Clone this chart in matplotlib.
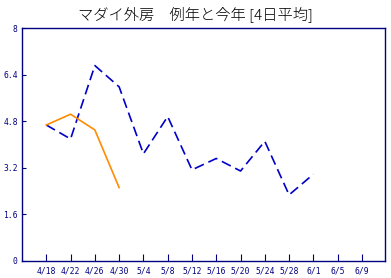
import matplotlib
matplotlib.use("Agg")
import matplotlib.pyplot as plt
import numpy as np

# 日付ラベル (4日おき)
tick_labels = ["4/18", "4/22", "4/26", "4/30", "5/4", "5/8", "5/12", "5/16",
               "5/20", "5/24", "5/28", "6/1", "6/5", "6/9"]
tick_days = np.arange(0, 56, 4)

# 例年 (青・破線)
avg_days = [0, 4, 8, 12, 16, 20, 24, 28, 32, 36, 40, 44]
avg_vals = [4.67, 4.19, 6.71, 5.98, 3.68, 4.96, 3.13, 3.52, 3.09, 4.11, 2.27, 2.98]

# 今年 (オレンジ)
now_days = [0, 4, 8, 12]
now_vals = [4.67, 5.04, 4.5, 2.52]

navy = "#000080"

plt.rcParams['font.family'] = ['Noto Sans CJK JP', 'DejaVu Sans']

fig = plt.figure(figsize=(3.91, 2.78), dpi=100)
ax = fig.add_axes([22 / 391, 1 - 261 / 278, 363 / 391, 233 / 278])

ax.plot(avg_days, avg_vals, color="#0000c8", lw=1.2, dashes=(6, 3))
ax.plot(now_days, now_vals, color="#ff8c00", lw=1.2)

ax.set_xlim(-4, 55.8)
ax.set_ylim(0, 8)
ax.set_xticks(tick_days)
ax.set_xticklabels(tick_labels)
ax.set_yticks([0, 1.6, 3.2, 4.8, 6.4, 8])
ax.set_yticklabels(["0", "1.6", "3.2", "4.8", "6.4", "8"])

for s in ax.spines.values():
    s.set_color(navy)
    s.set_linewidth(1)
ax.tick_params(axis="x", direction="in", length=5, color=navy, labelcolor=navy,
               labelsize=5.8, pad=4)
ax.tick_params(axis="y", direction="in", length=3, color=navy, labelcolor=navy,
               labelsize=5.8, pad=3)
for lab in ax.get_xticklabels() + ax.get_yticklabels():
    lab.set_family("DejaVu Sans Mono")

fig.text(0.5, 1 - 14 / 278, "マダイ外房　例年と今年 [4日平均]", ha="center", va="center",
         fontsize=11, fontweight="light", color="black")

fig.savefig("out.png", dpi=100)
